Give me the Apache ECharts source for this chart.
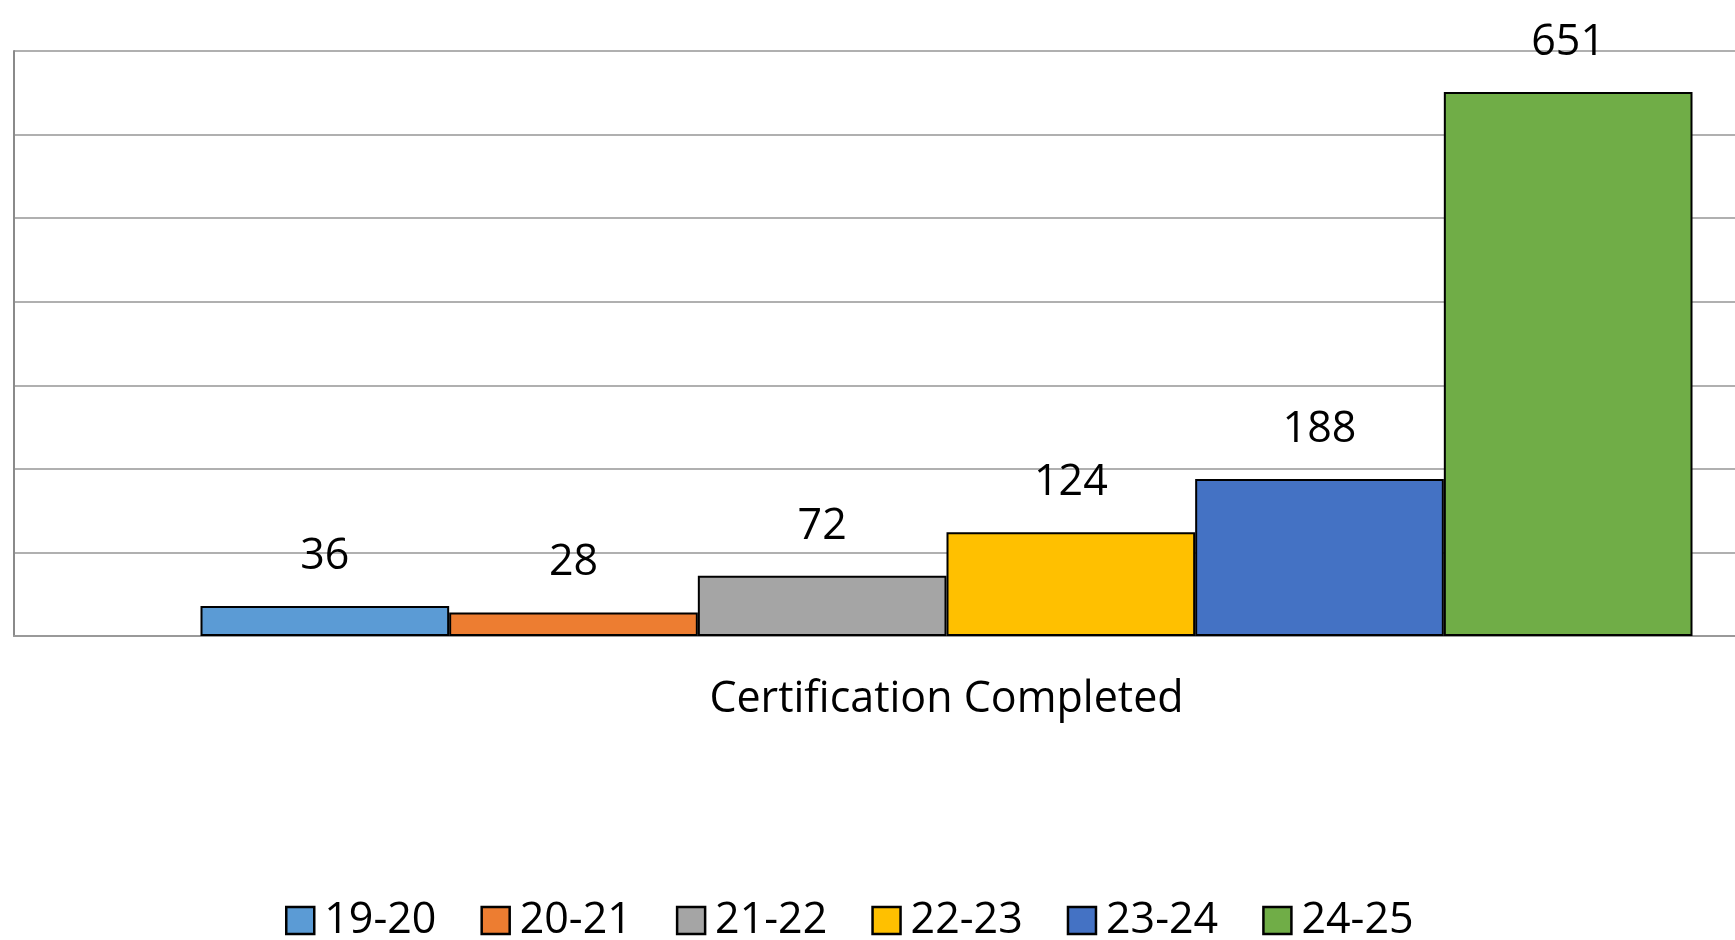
<!DOCTYPE html>
<html>
<head>
<meta charset="utf-8">
<title>Certification Completed</title>
<script src="https://cdn.jsdelivr.net/npm/echarts@6/dist/echarts.min.js"></script>
<style>
  html, body { margin: 0; padding: 0; background: #ffffff; }
  #chart { width: 1735px; height: 940px; }
</style>
</head>
<body>
<div id="chart"></div>
<script>
// chart data
const categories = ['Certification Completed'];
const yearNames = ['19-20', '20-21', '21-22', '22-23', '23-24', '24-25'];
const yearValues = [36, 28, 72, 124, 188, 651];
const yearColors = ['#5B9BD5', '#ED7D31', '#A5A5A5', '#FFC000', '#4472C4', '#70AD47'];

const FONT = '"Open Sans", "Noto Sans", sans-serif';

const chart = echarts.init(document.getElementById('chart'));

const series = yearNames.map((name, i) => ({
  name: name,
  type: 'bar',
  data: [yearValues[i]],
  barGap: 0,
  barCategoryGap: '20%',
  itemStyle: {
    color: yearColors[i],
    borderColor: '#000',
    borderWidth: 2
  },
  label: {
    show: true,
    position: 'top',
    distance: 28,
    color: '#000',
    fontFamily: FONT,
    fontSize: 43,
    lineHeight: 43
  }
}));

const option = {
  backgroundColor: '#fff',
  animation: false,
  grid: {
    // plot runs past the right edge of the picture, as in the original
    left: 14,
    top: 51,
    width: 1865,
    height: 585,
    outerBoundsMode: 'none',
    containLabel: false
  },
  legend: {
    data: yearNames,
    left: 280,
    top: 894,
    itemWidth: 28,
    itemHeight: 27,
    itemGap: 44,
    icon: 'rect',
    itemStyle: {
      borderColor: '#000',
      borderWidth: 2.5
    },
    textStyle: {
      color: '#000',
      fontFamily: FONT,
      fontSize: 43,
      lineHeight: 43,
      padding: [0, 0, 0, 5]
    }
  },
  xAxis: {
    type: 'category',
    data: categories,
    axisLine: { lineStyle: { color: '#999', width: 2 } },
    axisTick: { show: false },
    axisLabel: {
      color: '#000',
      fontFamily: FONT,
      fontSize: 43,
      lineHeight: 43,
      margin: 42
    }
  },
  yAxis: {
    type: 'value',
    min: 0,
    max: 700,
    interval: 100,
    axisLine: { show: true, lineStyle: { color: '#8a8a8a', width: 2 } },
    axisTick: { show: false },
    axisLabel: { show: false },
    splitLine: { lineStyle: { color: '#b0b0b0', width: 2 } }
  },
  series: series
};

chart.setOption(option);
</script>
</body>
</html>
